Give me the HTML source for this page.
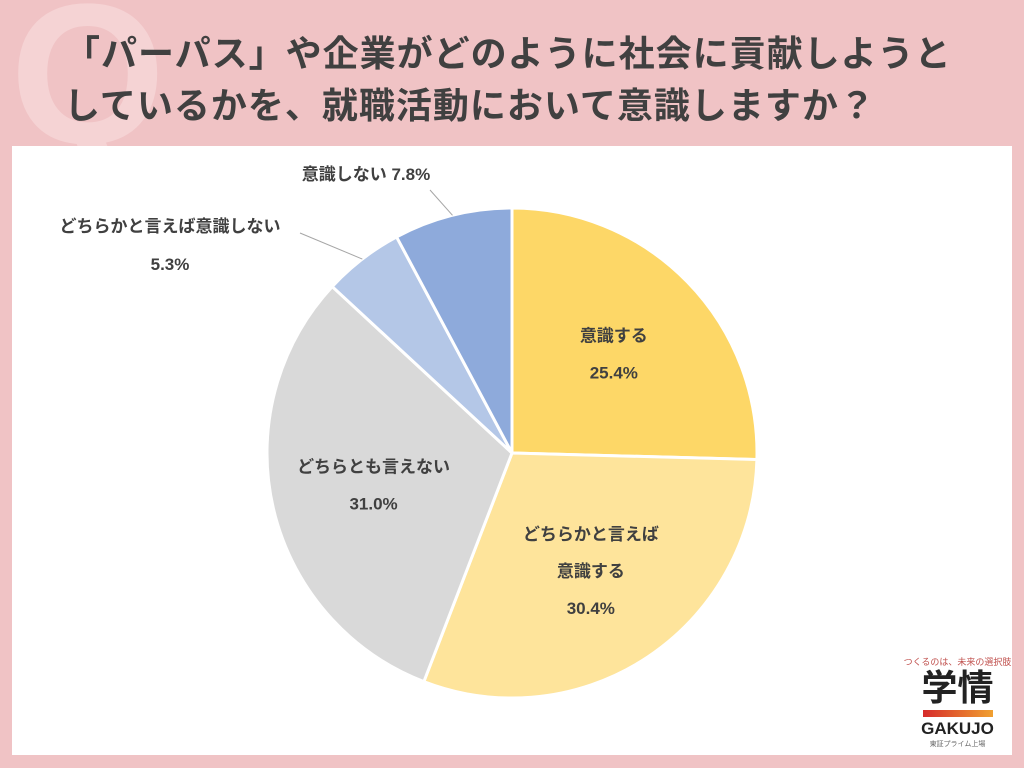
<!DOCTYPE html>
<html><head><meta charset="utf-8"><style>
body{margin:0;width:1024px;height:768px;overflow:hidden;background:#f0c3c5;font-family:"Liberation Sans","Noto Sans CJK JP",sans-serif;position:relative}
.title{position:absolute;left:64px;top:28px;font-size:36px;font-weight:bold;color:#404040;line-height:52px;letter-spacing:1px;white-space:nowrap}
.q{position:absolute;left:10px;top:-40px;font-size:200px;font-weight:bold;color:#f5d3d4;font-family:"Liberation Sans",sans-serif}
.panel{position:absolute;left:12px;top:146px;width:1000px;height:609px;background:#fff}
</style></head><body>
<div class="q">Q</div>
<div class="title">「パーパス」や企業がどのように社会に貢献しようと<br>しているかを、就職活動において意識しますか？</div>
<div class="panel"></div>
<svg id="chart" width="1024" height="768" style="position:absolute;left:0;top:0"></svg>
<div style="position:absolute;left:900px;top:655px;width:115px;text-align:center">
<div style="font-size:9px;color:#c0504d">つくるのは、未来の選択肢</div>
<div style="font-size:36px;font-weight:bold;color:#222;line-height:40px">学情</div>
<div style="margin:2px auto;width:70px;height:7px;background:linear-gradient(90deg,#d62b2b,#f0a030)"></div>
<div style="font-size:17px;font-weight:bold;color:#222">GAKUJO</div>
<div style="font-size:7px;color:#666">東証プライム上場</div>
</div>
<script>
const categories=["意識する","どちらかと言えば意識する","どちらとも言えない","どちらかと言えば意識しない","意識しない"];
const values=[25.4,30.4,31.0,5.3,7.8];
const colors=["#fdd767","#fee49b","#d9d9d9","#b4c7e7","#8eaadb"];
const svg=document.getElementById('chart');
const NS="http://www.w3.org/2000/svg";
const cx=512,cy=453,r=245;
const total=values.reduce((a,b)=>a+b,0);
function pt(a,rr){return [cx+rr*Math.sin(a),cy-rr*Math.cos(a)];}
let acc=0;
const mids=[];
values.forEach((v,i)=>{
 const a0=acc/total*2*Math.PI;acc+=v;const a1=acc/total*2*Math.PI;
 const p0=pt(a0,r),p1=pt(a1,r);
 const path=document.createElementNS(NS,'path');
 path.setAttribute('d',`M${cx},${cy}L${p0[0]},${p0[1]}A${r},${r} 0 ${a1-a0>Math.PI?1:0} 1 ${p1[0]},${p1[1]}Z`);
 path.setAttribute('fill',colors[i]);path.setAttribute('stroke','#fff');path.setAttribute('stroke-width','3');
 
 
 svg.appendChild(path);
 mids.push((a0+a1)/2);
});
function txt(x,y,s,name){const t=document.createElementNS(NS,'text');t.setAttribute('x',x);t.setAttribute('y',y);t.setAttribute('text-anchor','middle');t.setAttribute('font-size','17');t.setAttribute('font-weight','bold');t.setAttribute('fill','#404040');t.textContent=s;
 
 
 svg.appendChild(t);}
function inner(i,lines){const p=pt(mids[i],r*0.58);const n=lines.length;lines.forEach((l,k)=>txt(p[0],p[1]+(k-(n-1)/2)*37+6,l,'label-'+i));}
inner(0,[categories[0],values[0].toFixed(1)+'%']);
inner(1,["どちらかと言えば","意識する",values[1].toFixed(1)+'%']);
inner(2,[categories[2],values[2].toFixed(1)+'%']);
function leader(i,x2,y2){const p=pt(mids[i],r);const l=document.createElementNS(NS,'line');l.setAttribute('x1',p[0]);l.setAttribute('y1',p[1]);l.setAttribute('x2',x2);l.setAttribute('y2',y2);l.setAttribute('stroke','#a6a6a6');
 
 
 svg.appendChild(l);}
leader(3,300,233);leader(4,430,190);
txt(170,232,categories[3],'label-3');txt(170,270,values[3].toFixed(1)+'%','label-3-value');
txt(366,180,categories[4]+' '+values[4].toFixed(1)+'%','label-4');
</script>
</body></html>
